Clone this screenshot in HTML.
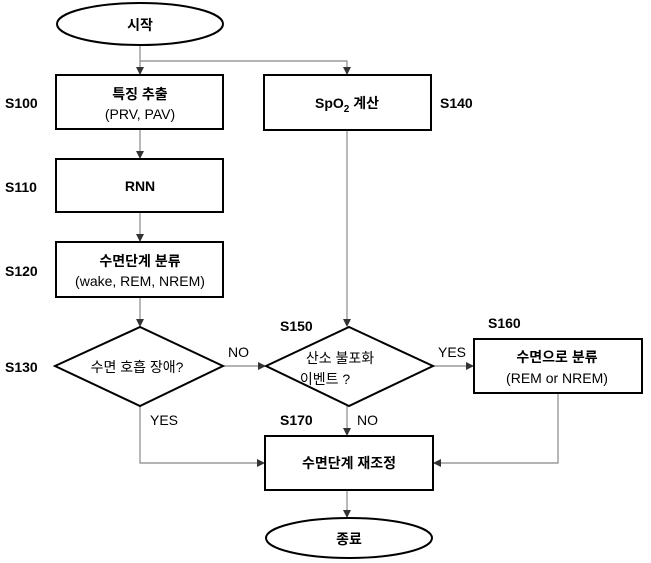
<!DOCTYPE html>
<html><head><meta charset="utf-8"><style>
html,body{margin:0;padding:0;background:#fff;}
svg{display:block;}
text{font-family:"Liberation Sans","Noto Sans CJK KR",sans-serif;fill:#000;}
.b{font-weight:bold;}
</style></head><body>
<svg width="651" height="563" viewBox="0 0 651 563" xmlns="http://www.w3.org/2000/svg">
<defs><marker id="a" markerWidth="8" markerHeight="8" refX="7" refY="4" orient="auto" markerUnits="userSpaceOnUse"><path d="M0,0 L8,4 L0,8 z" fill="#333"/></marker></defs>
<g fill="none" stroke="#888" stroke-width="1.2">
<line x1="140" y1="45" x2="140" y2="74" marker-end="url(#a)"/>
<polyline points="140,61 347,61 347,74" marker-end="url(#a)"/>
<line x1="140" y1="129" x2="140" y2="158" marker-end="url(#a)"/>
<line x1="140" y1="212" x2="140" y2="241" marker-end="url(#a)"/>
<line x1="140" y1="297" x2="140" y2="326" marker-end="url(#a)"/>
<line x1="347" y1="130" x2="347" y2="326" marker-end="url(#a)"/>
<line x1="223" y1="366" x2="265" y2="366" marker-end="url(#a)"/>
<line x1="433" y1="366" x2="473" y2="366" marker-end="url(#a)"/>
<line x1="347" y1="406" x2="347" y2="435" marker-end="url(#a)"/>
<polyline points="140,406 140,463 264,463" marker-end="url(#a)"/>
<polyline points="558,393 558,463 434,463" marker-end="url(#a)"/>
<line x1="347" y1="490" x2="347" y2="517" marker-end="url(#a)"/>
</g>
<g fill="#fff" stroke="#000" stroke-width="2">
<ellipse cx="140" cy="24" rx="83" ry="21"/>
<rect x="56" y="75" width="167" height="54"/>
<rect x="56" y="159" width="167" height="53"/>
<rect x="56" y="242" width="167" height="55"/>
<rect x="264" y="75" width="167" height="55"/>
<polygon points="55,366 140,327 223,366 140,406"/>
<polygon points="266,366 349,327 433,366 349,406"/>
<rect x="474" y="339" width="168" height="54"/>
<rect x="265" y="436" width="168" height="54"/>
<ellipse cx="349" cy="538" rx="83" ry="20"/>
</g>
<g font-size="14" text-anchor="middle">
<text x="140" y="30" class="b">시작</text>
<text x="140" y="99" class="b">특징 추출</text>
<text x="140" y="119">(PRV, PAV)</text>
<text x="140" y="191" class="b">RNN</text>
<text x="140" y="266" class="b">수면단계 분류</text>
<text x="140" y="286">(wake, REM, NREM)</text>
<text x="347" y="108" class="b">SpO<tspan font-size="10" dy="4">2</tspan><tspan dy="-4"> 계산</tspan></text>
<text x="137" y="372">수면 호흡 장애?</text>
<text x="340" y="363">산소 불포화</text>
<text x="325" y="384">이벤트 ?</text>
<text x="557" y="362" class="b">수면으로 분류</text>
<text x="557" y="383">(REM or NREM)</text>
<text x="349" y="468" class="b">수면단계 재조정</text>
<text x="349" y="544" class="b">종료</text>
</g>
<g font-size="14" class="b">
<text x="5" y="108" class="b">S100</text>
<text x="5" y="192" class="b">S110</text>
<text x="5" y="276" class="b">S120</text>
<text x="440" y="108" class="b">S140</text>
<text x="5" y="372" class="b">S130</text>
<text x="280" y="331" class="b">S150</text>
<text x="488" y="328" class="b">S160</text>
<text x="280" y="425" class="b">S170</text>
</g>
<g font-size="14">
<text x="228" y="357">NO</text>
<text x="438" y="357">YES</text>
<text x="150" y="425">YES</text>
<text x="357" y="425">NO</text>
</g>
</svg>
</body></html>
